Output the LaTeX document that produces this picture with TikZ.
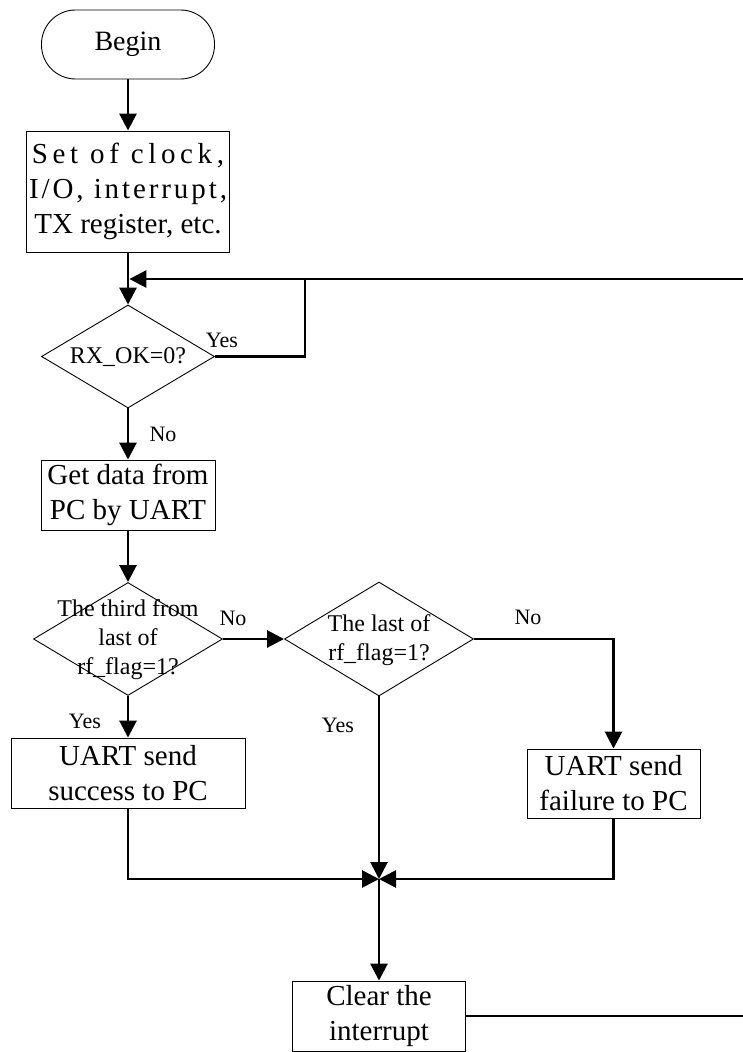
\documentclass[tikz,border=0pt]{standalone}
\usepackage{fontspec}
\setmainfont{Liberation Serif}
\usetikzlibrary{arrows.meta,shapes.geometric}

% text laid over a decision shape without enlarging it
\newcommand\dtext[1]{\smash{\raisebox{-0.3em}{\makebox[0pt]{\begin{tabular}{@{}c@{}}#1\end{tabular}}}}}

\begin{document}
\begin{tikzpicture}[x=1pt,y=-1pt,
  shape line/.style={draw=black, line width=0.9pt},
  procbox/.style={shape line, rectangle, inner sep=0pt, align=center,
                  font=\fontsize{29}{35}\selectfont},
  startbox/.style={procbox, rounded corners=34pt, font=\fontsize{28}{34}\selectfont},
  decision/.style={shape line, diamond, inner sep=0pt,
                   font=\fontsize{24}{29}\selectfont},
  flow/.style={line width=2.8pt, -{Triangle[length=17pt,width=17pt]}},
  wire/.style={line width=2.8pt},
  tag/.style={inner sep=0pt, font=\fontsize{22}{26}\selectfont}]

\useasboundingbox (0,0) rectangle (743,1052);

% process steps and decisions
\node[startbox, minimum width=173pt, minimum height=69pt] (begin) at (128,44.5) {Begin};
\node[procbox, minimum width=203pt, minimum height=121pt] (setup) at (128,191.5)
  {{\addfontfeature{LetterSpace=16}Set of clock,}\\{\addfontfeature{LetterSpace=10}I/O, interrupt,}\\TX register, etc.};
\node[decision, minimum width=173pt, minimum height=103pt] (rxok) at (128,356.5) {\dtext{RX\_OK=0?}};
\node[procbox, minimum width=174pt, minimum height=70pt] (getdata) at (128,495) {Get data from\\PC by UART};
\node[decision, minimum width=189pt, minimum height=113pt] (third) at (128,639) {\dtext{The third from\\last of\\rf\_flag=1?}};
\node[decision, minimum width=189pt, minimum height=114pt] (last) at (379,639) {\dtext{The last of\\rf\_flag=1?}};
\node[procbox, minimum width=234pt, minimum height=70pt] (success) at (128,773) {UART send\\success to PC};
\node[procbox, minimum width=173pt, minimum height=69pt] (failure) at (613.5,783.5) {UART send\\failure to PC};
\node[procbox, minimum width=173pt, minimum height=70pt] (clear) at (379,1016) {Clear the\\interrupt};

% junctions and free ends
\coordinate (loopin) at (128,279);
\coordinate (loopR) at (743,279);
\coordinate (yesR) at (305,279);
\coordinate (merge) at (379,879);
\coordinate (clearR) at (743,1016);

% connectors
\draw[flow] (begin) -- (setup);
\draw[flow] (setup) -- (rxok);
\draw[flow, shorten >=1.4pt] (loopR) -- (loopin);
\draw[wire] (rxok.east) -| (yesR);
\draw[flow] (rxok) -- (getdata);
\draw[flow] (getdata) -- (third);
\draw[flow] (third.east) -- (last.west);
\draw[flow] (last.east) -| (failure.north);
\draw[flow] (third) -- (success);
\draw[flow] (last.south) -- (merge);
\draw[flow] (success.south) |- (merge);
\draw[flow] (failure.south) |- (merge);
\draw[flow] (merge) -- (clear);
\draw[wire] (clear.east) -- (clearR);

% branch labels
\node[tag] (yes1) at (222,340) {Yes};
\node[tag] (no1) at (163,434) {No};
\node[tag] (no2) at (233,618) {No};
\node[tag] (no3) at (528,617) {No};
\node[tag] (yes3) at (338,725) {Yes};
\node[tag] (yes2) at (85,721) {Yes};
\end{tikzpicture}
\end{document}
